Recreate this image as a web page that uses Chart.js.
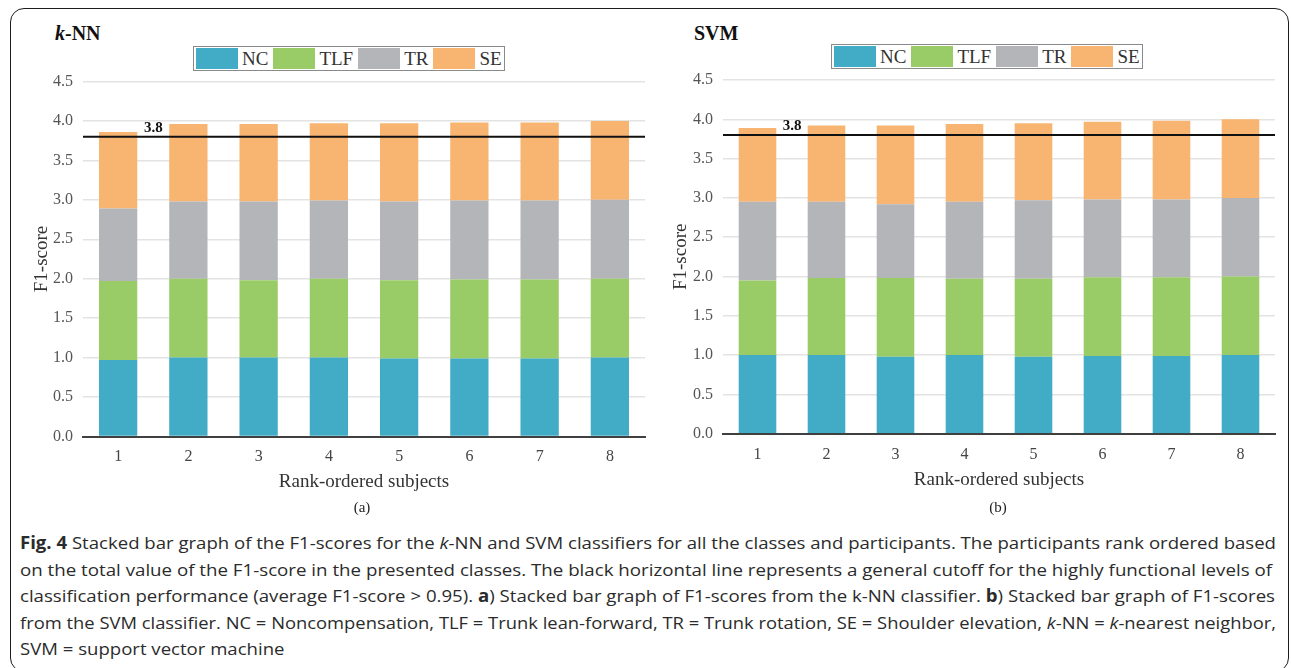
<!DOCTYPE html>
<html>
<head>
<meta charset="utf-8">
<title>Fig. 4 — F1-scores, k-NN vs SVM</title>
<script src="https://cdn.jsdelivr.net/npm/chart.js@4/dist/chart.umd.min.js"></script>
<style>
  html, body { margin: 0; padding: 0; background: #fff; }
  body { width: 1292px; height: 668px; position: relative; overflow: hidden; }
  .card {
    position: absolute; left: 10px; top: 8px; width: 1279px; height: 664px;
    border: 1.5px solid #1c1c1c; border-radius: 14px; box-sizing: border-box;
  }
  .panel { position: absolute; top: 0; height: 500px; }
  .panel-title {
    position: absolute; top: 21px; font: bold 20px "Liberation Serif", serif;
    line-height: 24px; color: #111;
  }
  .legend {
    position: absolute; display: flex; align-items: center; height: 25px;
    border: 1px solid #8a8a8a; box-sizing: border-box; padding: 0 2px;
    font: 19px "Liberation Serif", serif; color: #333; background: #fff;
  }
  .legend span.sw { display: inline-block; width: 42px; height: 21px; margin-right: 4px; }
  .legend span.tx { margin-right: 5px; line-height: 21px; }
  .legend span.tx:last-child { margin-right: 0; }
  .sub { position: absolute; top: 499px; font: 15px "Liberation Serif", serif; color: #222; transform: translateX(-50%); }
  .caption { position: absolute; left: 20px; top: 530px; font: 17px "Open Sans", sans-serif; color: #2b2b2b; }
  .caption div { white-space: nowrap; line-height: 26.5px; transform-origin: 0 50%; width: max-content; }
</style>
</head>
<body>
<div class="card"></div>

<div class="panel-title" style="left:55px"><i>k</i>-NN</div>
<div class="panel-title" style="left:694px">SVM</div>
<div class="legend" id="legend-knn" style="left:193px;top:46px"></div>
<div class="legend" id="legend-svm" style="left:831px;top:44px"></div>

<div class="panel" style="left:0;width:660px"><canvas id="chart-knn"></canvas></div>
<div class="panel" style="left:660px;width:632px"><canvas id="chart-svm"></canvas></div>

<div class="sub" style="left:362px">(a)</div>
<div class="sub" style="left:998px">(b)</div>

<div class="caption" id="caption">
  <div data-w="1256"><b>Fig. 4</b> Stacked bar graph of the F1-scores for the <i>k</i>-NN and SVM classifiers for all the classes and participants. The participants rank ordered based</div>
  <div data-w="1252">on the total value of the F1-score in the presented classes. The black horizontal line represents a general cutoff for the highly functional levels of</div>
  <div data-w="1255">classification performance (average F1-score &gt; 0.95). <b>a</b>) Stacked bar graph of F1-scores from the k-NN classifier. <b>b</b>) Stacked bar graph of F1-scores</div>
  <div data-w="1256">from the SVM classifier. NC = Noncompensation, TLF = Trunk lean-forward, TR = Trunk rotation, SE = Shoulder elevation, <i>k</i>-NN = <i>k</i>-nearest neighbor,</div>
  <div>SVM = support vector machine</div>
</div>

<script>
'use strict';

// ── Data ──────────────────────────────────────────────────────────────────────
const SUBJECTS = ['1', '2', '3', '4', '5', '6', '7', '8'];
const CLASSES  = ['NC', 'TLF', 'TR', 'SE'];
const COLORS   = ['#42abc6', '#99cc66', '#b4b5b9', '#f8b572'];
const Y_TICKS  = [0, 0.5, 1, 1.5, 2, 2.5, 3, 3.5, 4, 4.5];
const CUTOFF   = 3.8;

// k-NN
const knnNC  = [0.97, 1.00, 1.00, 1.00, 0.99, 0.99, 0.99, 1.00];
const knnTLF = [1.00, 1.00, 0.98, 1.00, 0.99, 1.00, 1.00, 1.00];
const knnTR  = [0.92, 0.98, 1.00, 0.99, 1.00, 1.00, 1.00, 1.00];
const knnSE  = [0.97, 0.98, 0.98, 0.98, 0.99, 0.99, 0.99, 1.00];

// SVM
const svmNC  = [1.00, 1.00, 0.98, 1.00, 0.98, 0.99, 0.99, 1.00];
const svmTLF = [0.95, 0.98, 1.00, 0.97, 0.99, 1.00, 1.00, 1.00];
const svmTR  = [1.00, 0.97, 0.94, 0.98, 1.00, 0.99, 0.99, 1.00];
const svmSE  = [0.94, 0.97, 1.00, 0.99, 0.98, 0.99, 1.00, 1.00];

// ── Plugins ───────────────────────────────────────────────────────────────────

// black cutoff line across the plot + "3.8" label between subjects 1 and 2
const cutoffLine = {
  id: 'cutoffLine',
  afterDatasetsDraw(chart) {
    const { ctx, chartArea, scales: { x, y } } = chart;
    const yPx = y.getPixelForValue(CUTOFF);
    ctx.save();
    ctx.strokeStyle = '#111';
    ctx.lineWidth = 2;
    ctx.beginPath();
    ctx.moveTo(chartArea.left, yPx);
    ctx.lineTo(chartArea.right, yPx);
    ctx.stroke();
    ctx.font = 'bold 15px "Liberation Serif", serif';
    ctx.fillStyle = '#111';
    ctx.textAlign = 'center';
    ctx.textBaseline = 'middle';
    ctx.fillText(CUTOFF.toFixed(1), x.getPixelForValue(0.5), yPx - 9);
    ctx.restore();
  }
};

// html legend (boxed, like the figure), built from the chart's own datasets
function htmlLegend(containerId) {
  return {
    id: 'htmlLegend',
    afterUpdate(chart) {
      const box = document.getElementById(containerId);
      const items = chart.options.plugins.legend.labels.generateLabels(chart);
      box.innerHTML = items.map(it =>
        `<span class="sw" style="background:${it.fillStyle}"></span><span class="tx">${it.text}</span>`
      ).join('');
    }
  };
}

// ── Chart builder ─────────────────────────────────────────────────────────────

function makeChart(canvasId, legendId, series, pad) {
  return new Chart(document.getElementById(canvasId), {
    type: 'bar',
    data: {
      labels: SUBJECTS,
      datasets: CLASSES.map((name, i) => ({
        label: name,
        data: series[i],
        backgroundColor: COLORS[i],
        borderWidth: 0,
        barPercentage: 0.545,
        categoryPercentage: 1.0,
      })),
    },
    options: {
      responsive: true,
      maintainAspectRatio: false,
      animation: false,
      layout: { padding: pad.layout },
      plugins: {
        legend: { display: false },
        tooltip: { enabled: false },
      },
      scales: {
        x: {
          stacked: true,
          grid: { display: false },
          border: { display: true, color: '#404040', width: 2 },
          ticks: { padding: 3, color: '#444', font: { family: 'Liberation Serif', size: 16 } },
          title: {
            display: true, text: 'Rank-ordered subjects', color: '#333',
            font: { family: 'Liberation Serif', size: 19 },
            padding: { top: 0, bottom: pad.xTitle },
          },
          afterFit: s => { s.height = 60; },
        },
        y: {
          stacked: true,
          min: 0,
          max: 4.5,
          afterBuildTicks: s => { s.ticks = Y_TICKS.map(v => ({ value: v })); },
          grid: { color: '#e3e3e3', lineWidth: 1.5, drawTicks: false },
          border: { display: false },
          ticks: {
            padding: 10, color: '#555',
            font: { family: 'Liberation Serif', size: 16 },
            callback: v => v.toFixed(1),
          },
          title: {
            display: true, text: 'F1-score', color: '#333',
            font: { family: 'Liberation Serif', size: 19 },
            padding: { top: 0, bottom: 0 },
          },
          afterFit: s => { s.width = pad.yWidth; },
        },
      },
    },
    plugins: [cutoffLine, htmlLegend(legendId)],
  });
}

makeChart('chart-knn', 'legend-knn', [knnNC, knnTLF, knnTR, knnSE], {
  layout: { left: 31, right: 15, top: 81.5, bottom: 3.5 },
  yWidth: 52,
  xTitle: 3.5,
});

makeChart('chart-svm', 'legend-svm', [svmNC, svmTLF, svmTR, svmSE], {
  layout: { left: 9.5, right: 17, top: 80, bottom: 6.3 },
  yWidth: 53.5,
  xTitle: 2.7,
});

// ── Caption: fit each line to the width it has in the figure ─────────────────
(function fitCaption() {
  const lines = Array.from(document.querySelectorAll('#caption div'));
  let sum = 0, n = 0;
  lines.forEach(el => {
    const target = +el.dataset.w;
    if (!target) return;
    const k = target / el.getBoundingClientRect().width;
    el.style.transform = `scaleX(${k})`;
    sum += k; n++;
  });
  const avg = sum / n;
  lines.forEach(el => { if (!el.dataset.w) el.style.transform = `scaleX(${avg})`; });
})();
</script>
</body>
</html>
